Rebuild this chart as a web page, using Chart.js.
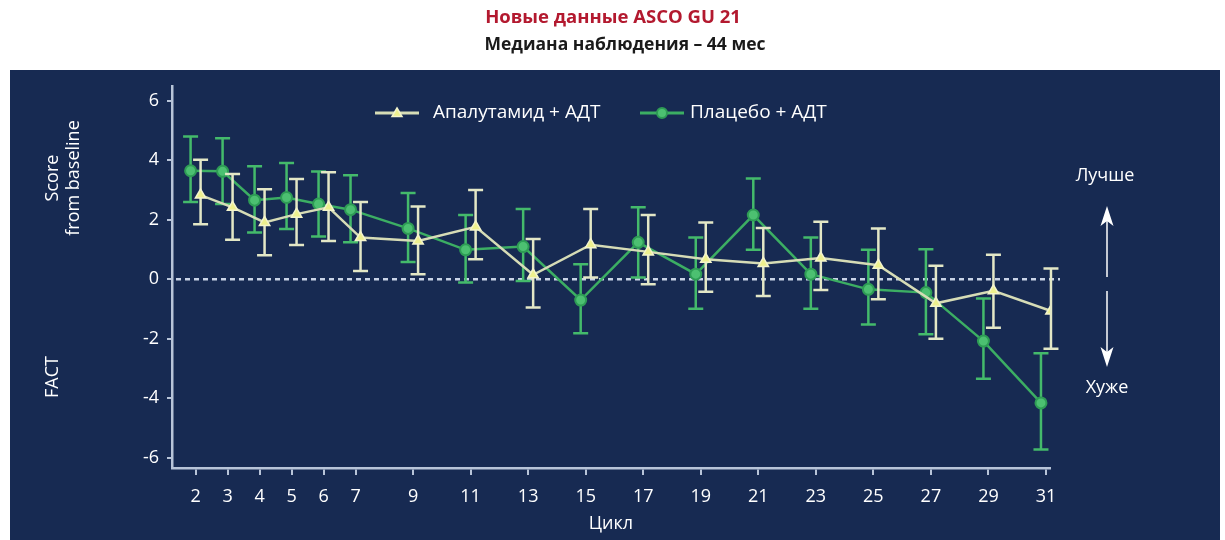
<!DOCTYPE html>
<html>
<head>
<meta charset="utf-8">
<script src="https://cdn.jsdelivr.net/npm/chart.js@4.4.1/dist/chart.umd.min.js"></script>
<style>
  html, body { margin: 0; padding: 0; background: #ffffff; }
  canvas { display: block; }
</style>
</head>
<body>
<canvas id="factChart" width="1225" height="540"></canvas>
<script>
  // cycles on the x axis (also the tick labels)
  const cycles = [2, 3, 4, 5, 6, 7, 9, 11, 13, 15, 17, 19, 21, 23, 25, 27, 29, 31];
  const yTicks = [-6, -4, -2, 0, 2, 4, 6];

  // Апалутамид + АДТ: mean change and error bar ends
  const apaMean  = [2.83, 2.42, 1.91, 2.19, 2.42, 1.40, 1.29, 1.76, 0.15, 1.16, 0.92, 0.67, 0.53, 0.71, 0.47, -0.81, -0.39, -1.07];
  const apaUpper = [4.02, 3.54, 3.03, 3.37, 3.60, 2.60, 2.45, 3.00, 1.35, 2.36, 2.16, 1.91, 1.72, 1.93, 1.71, 0.45, 0.82, 0.36];
  const apaLower = [1.85, 1.33, 0.81, 1.15, 1.29, 0.28, 0.17, 0.67, -0.95, 0.06, -0.17, -0.42, -0.56, -0.36, -0.67, -2.00, -1.63, -2.34];

  // Плацебо + АДТ
  const plcMean  = [3.65, 3.63, 2.66, 2.75, 2.53, 2.34, 1.71, 0.99, 1.10, -0.70, 1.24, 0.17, 2.16, 0.17, -0.34, -0.45, -2.08, -4.16];
  const plcUpper = [4.80, 4.74, 3.80, 3.91, 3.62, 3.50, 2.90, 2.16, 2.36, 0.50, 2.42, 1.40, 3.39, 1.40, 0.99, 1.01, -0.65, -2.49];
  const plcLower = [2.60, 2.53, 1.57, 1.69, 1.44, 1.24, 0.58, -0.11, -0.06, -1.82, 0.06, -0.99, 0.99, -0.99, -1.52, -1.85, -3.35, -5.73];

  const FONT = "'Open Sans', 'Noto Sans', sans-serif";
  const NAVY = '#172a52';

  // the early cycles are drawn a little wider apart than the later ones
  const warp = v => (v < 7 ? 7 - (7 - v) * 1.112 : v);
  const unwarp = u => (u < 7 ? 7 - (7 - u) / 1.112 : u);

  class CycleScale extends Chart.LinearScale {
    getPixelForValue(v) {
      if (v === null || v === undefined) return NaN;
      return super.getPixelForValue(warp(v));
    }
    getValueForPixel(p) {
      return unwarp(super.getValueForPixel(p));
    }
  }
  CycleScale.id = 'cycle';
  CycleScale.defaults = Chart.LinearScale.defaults;
  Chart.register(CycleScale);

  const toPoints = arr => cycles.map((c, i) => ({ x: c, y: arr[i] }));

  // background panel, titles
  const backdrop = {
    id: 'backdrop',
    beforeDraw(chart) {
      const ctx = chart.ctx;
      ctx.save();
      ctx.fillStyle = '#ffffff';
      ctx.fillRect(0, 0, chart.width, chart.height);
      ctx.fillStyle = NAVY;
      ctx.fillRect(10, 70, 1210, 470);
      ctx.textAlign = 'center';
      ctx.textBaseline = 'middle';
      ctx.font = 'bold 18.5px ' + FONT;
      ctx.fillStyle = '#b3192f';
      ctx.fillText('Новые данные ASCO GU 21', 613, 18);
      ctx.font = 'bold 17.5px ' + FONT;
      ctx.fillStyle = '#1a1a1a';
      ctx.fillText('Медиана наблюдения – 44 мес', 625, 45);
      ctx.restore();
    }
  };

  // shift the two series slightly apart, like the original
  const dodge = {
    id: 'dodge',
    afterDatasetsUpdate(chart) {
      chart.data.datasets.forEach((ds, i) => {
        const meta = chart.getDatasetMeta(i);
        meta.data.forEach(el => { el.x += ds.dodge; });
      });
    }
  };

  // dashed zero line
  const zeroLine = {
    id: 'zeroLine',
    beforeDatasetsDraw(chart) {
      const ctx = chart.ctx, a = chart.chartArea;
      const y = chart.scales.y.getPixelForValue(0);
      ctx.save();
      ctx.strokeStyle = '#c9d3e6';
      ctx.lineWidth = 2.5;
      ctx.setLineDash([5, 4]);
      ctx.beginPath();
      ctx.moveTo(a.left + 4, y);
      ctx.lineTo(a.right + 10, y);
      ctx.stroke();
      ctx.restore();
    }
  };

  // error bars under each series' points
  const errorBars = {
    id: 'errorBars',
    beforeDatasetDraw(chart, args) {
      const ds = chart.data.datasets[args.index];
      const meta = args.meta;
      const ys = chart.scales.y;
      const ctx = chart.ctx;
      ctx.save();
      ctx.strokeStyle = ds.errColor;
      ctx.lineWidth = 2.5;
      meta.data.forEach((el, i) => {
        const x = el.x;
        const top = ys.getPixelForValue(ds.errUpper[i]);
        const bot = ys.getPixelForValue(ds.errLower[i]);
        ctx.beginPath();
        ctx.moveTo(x, top); ctx.lineTo(x, bot);
        ctx.moveTo(x - 7.5, top); ctx.lineTo(x + 7.5, top);
        ctx.moveTo(x - 7.5, bot); ctx.lineTo(x + 7.5, bot);
        ctx.stroke();
      });
      ctx.restore();
    }
  };

  function drawArrow(ctx, x, y1, y2) {
    const dir = y2 < y1 ? -1 : 1;
    ctx.beginPath();
    ctx.moveTo(x, y1);
    ctx.lineTo(x, y2 - dir * 12);
    ctx.stroke();
    ctx.beginPath();
    ctx.moveTo(x, y2);
    ctx.lineTo(x - 6.5, y2 - dir * 20);
    ctx.lineTo(x, y2 - dir * 15);
    ctx.lineTo(x + 6.5, y2 - dir * 20);
    ctx.closePath();
    ctx.fill();
  }

  // legend, side labels, arrows
  const annotations = {
    id: 'annotations',
    afterDraw(chart) {
      const ctx = chart.ctx;
      ctx.save();
      ctx.textBaseline = 'middle';

      // legend
      ctx.font = '19px ' + FONT;
      const items = [{ ds: chart.data.datasets[0], x: 375, tx: 433 }, { ds: chart.data.datasets[1], x: 640, tx: 690 }];
      items.forEach(it => {
        const ds = it.ds, y = 113, cx = it.x + 22;
        ctx.strokeStyle = ds.borderColor;
        ctx.lineWidth = 3;
        ctx.beginPath();
        ctx.moveTo(it.x, y); ctx.lineTo(it.x + 44, y);
        ctx.stroke();
        ctx.fillStyle = ds.pointBackgroundColor;
        ctx.strokeStyle = ds.pointBorderColor;
        ctx.lineWidth = ds.pointBorderWidth;
        ctx.beginPath();
        if (ds.pointStyle === 'triangle') {
          const r = 5;
          ctx.moveTo(cx, y - r);
          ctx.lineTo(cx + r, y + r * 0.7);
          ctx.lineTo(cx - r, y + r * 0.7);
          ctx.closePath();
        } else {
          ctx.arc(cx, y, 5, 0, Math.PI * 2);
        }
        ctx.fill();
        ctx.stroke();
        ctx.fillStyle = '#ffffff';
        ctx.textAlign = 'left';
        ctx.fillText(ds.label, it.tx, y);
      });

      // y axis caption
      ctx.font = '18px ' + FONT;
      ctx.textAlign = 'center';
      [['Score', 53, 178], ['from baseline', 74, 178], ['FACT', 53, 377]].forEach(t => {
        ctx.save();
        ctx.translate(t[1], t[2]);
        ctx.rotate(-Math.PI / 2);
        ctx.fillText(t[0], 0, 0);
        ctx.restore();
      });

      // better / worse
      ctx.fillText('Лучше', 1105, 176);
      ctx.fillText('Хуже', 1107, 388);
      ctx.strokeStyle = '#ffffff';
      ctx.lineWidth = 1.5;
      drawArrow(ctx, 1107, 277, 206);
      drawArrow(ctx, 1107, 291, 367);
      ctx.restore();
    }
  };

  const ctx = document.getElementById('factChart').getContext('2d');

  new Chart(ctx, {
    type: 'line',
    data: {
      datasets: [
        {
          label: 'Апалутамид + АДТ',
          data: toPoints(apaMean),
          errUpper: apaUpper,
          errLower: apaLower,
          errColor: '#e3e7c6',
          dodge: 5,
          borderColor: '#d6dcb6',
          borderWidth: 2.5,
          pointStyle: 'triangle',
          pointRadius: 6,
          pointBackgroundColor: '#eef08e',
          pointBorderColor: '#f3f4cc',
          pointBorderWidth: 1.5,
          tension: 0
        },
        {
          label: 'Плацебо + АДТ',
          data: toPoints(plcMean),
          errUpper: plcUpper,
          errLower: plcLower,
          errColor: '#44ba6b',
          dodge: -5,
          borderColor: '#3cae63',
          borderWidth: 2.5,
          pointStyle: 'circle',
          pointRadius: 5.5,
          pointBackgroundColor: '#4cc071',
          pointBorderColor: '#2e9c55',
          pointBorderWidth: 2,
          tension: 0
        }
      ]
    },
    options: {
      responsive: false,
      animation: false,
      devicePixelRatio: 1,
      layout: { padding: { left: 112, right: 175, top: 86, bottom: 0 } },
      plugins: {
        legend: { display: false },
        title: { display: false },
        tooltip: { enabled: false }
      },
      scales: {
        x: {
          type: 'cycle',
          min: 0.62,
          max: 31.14,
          bounds: 'data',
          afterBuildTicks: s => { s.ticks = cycles.map(v => ({ value: v })); },
          afterFit: s => { s.height = 72; },
          border: { color: '#b8c4d8', width: 2.5 },
          grid: { drawOnChartArea: false, tickLength: 7, color: '#b8c4d8', lineWidth: 2 },
          ticks: { color: '#ffffff', font: { size: 18, family: FONT }, padding: 11, maxRotation: 0, autoSkip: false },
          title: { display: true, text: 'Цикл', color: '#ffffff', font: { size: 18, family: FONT }, padding: { top: 0, bottom: 5 } }
        },
        y: {
          min: -6.35,
          max: 6.5,
          bounds: 'data',
          afterBuildTicks: s => { s.ticks = yTicks.map(v => ({ value: v })); },
          afterFit: s => { s.width = 60; },
          border: { color: '#b8c4d8', width: 2.5 },
          grid: { drawOnChartArea: false, tickLength: 5, color: '#b8c4d8', lineWidth: 2 },
          ticks: { color: '#ffffff', font: { size: 18, family: FONT }, padding: 8 }
        }
      }
    },
    plugins: [backdrop, dodge, zeroLine, errorBars, annotations]
  });
</script>
</body>
</html>
